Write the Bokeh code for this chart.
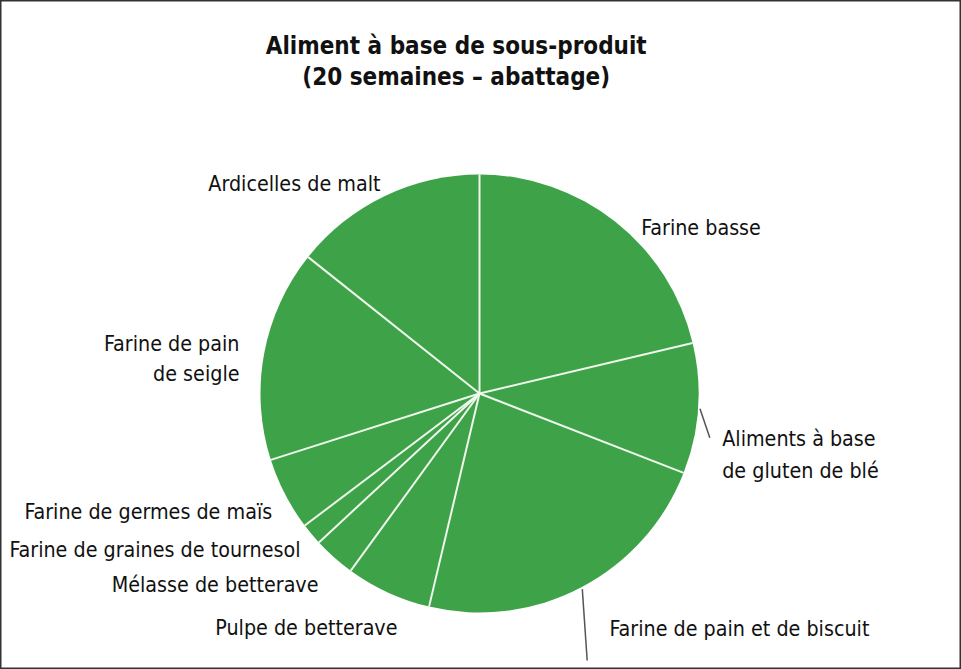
import numpy as np
from bokeh.plotting import figure
from bokeh.models import Range1d
from bokeh.core.properties import value
from bokeh.embed import file_html
from bokeh.resources import INLINE

# ---- data ----
categories = [
    "Farine basse",
    "Aliments à base de gluten de blé",
    "Farine de pain et de biscuit",
    "Pulpe de betterave",
    "Mélasse de betterave",
    "Farine de graines de tournesol",
    "Farine de germes de maïs",
    "Farine de pain de seigle",
    "Ardicelles de malt",
]
shares = [21.3, 9.6, 22.8, 6.3, 3.1, 1.6, 5.4, 15.6, 14.3]
title_lines = ["Aliment à base de sous-produit", "(20 semaines – abattage)"]

# ---- layout ----
W, H = 961, 669
CX, CY, R = 479, 276, 219
FONT = "DejaVu Sans Condensed"
GREEN = "#3ea248"

vals = np.array(shares, dtype=float)
frac = np.cumsum(vals) / vals.sum()
start = np.pi / 2 - np.concatenate([[0.0], frac[:-1]]) * 2 * np.pi
end = np.pi / 2 - frac * 2 * np.pi
mid = (start + end) / 2

p = figure(width=W, height=H, output_backend="svg", toolbar_location=None,
           x_range=Range1d(0, W), y_range=Range1d(0, H), min_border=0)
p.axis.visible = False
p.grid.visible = False
p.outline_line_color = "#333333"
p.outline_line_width = 2
p.background_fill_color = "white"

p.wedge(x=CX, y=CY, radius=R, start_angle=start, end_angle=end,
        direction="clock", fill_color=GREEN, line_color=None)

# separators
p.segment(x0=[CX] * len(start), y0=[CY] * len(start),
          x1=list(CX + R * np.cos(start)), y1=list(CY + R * np.sin(start)),
          line_color="#eef8ec", line_width=2)

# title
p.text(x=[455.7, 455.7], y=[624, 593], text=title_lines,
       text_font=value(FONT), text_font_style="bold", text_font_size="24px",
       text_align="center", text_baseline="alphabetic", text_color="#111111")

lab_style = dict(text_font=value(FONT), text_font_size="21.3px",
                 text_baseline="alphabetic", text_color="#111111")

# right-aligned labels
p.text(x=[380, 239, 239, 271.7, 300, 318, 397],
       y=[486, 326.3, 295.7, 158.3, 120, 85, 42],
       text=["Ardicelles de malt", "Farine de pain", "de seigle",
             "Farine de germes de maïs", "Farine de graines de tournesol",
             "Mélasse de betterave", "Pulpe de betterave"],
       text_align="right", **lab_style)
# left-aligned labels
p.text(x=[640.7, 721.7, 721.7, 609],
       y=[441.7, 231, 199, 41],
       text=["Farine basse", "Aliments à base", "de gluten de blé",
             "Farine de pain et de biscuit"],
       text_align="left", **lab_style)

# leader lines (gluten, biscuit)
idx = [1, 2]
p.segment(x0=[CX + (R + 2) * np.cos(mid[i]) for i in idx],
          y0=[CY + (R + 2) * np.sin(mid[i]) for i in idx],
          x1=[709.3, 586.7], y1=[231.7, 9],
          line_color="#555555", line_width=1.5)

open("out.html", "w").write(file_html(p, INLINE))
